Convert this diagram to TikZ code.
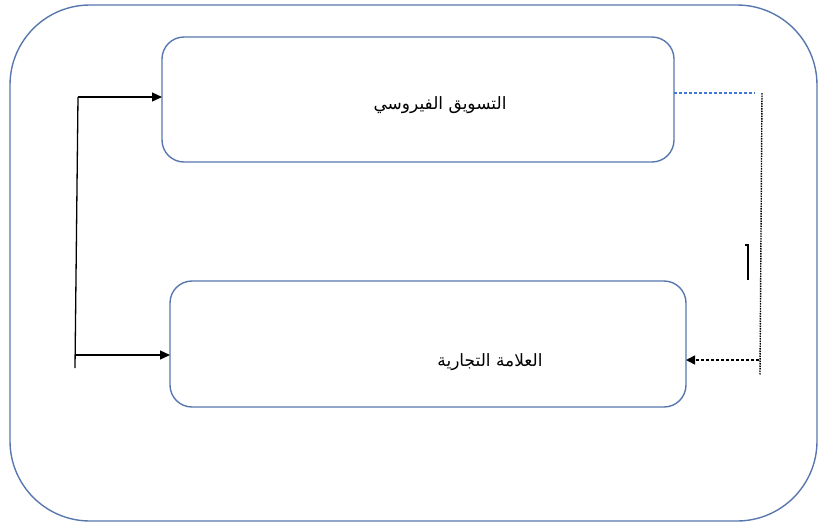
\documentclass[tikz,border=0pt]{standalone}
\usepackage{fontspec}
\newfontfamily\arabicfont[Script=Arabic]{DejaVu Sans}
\TeXXeTstate=1
\usetikzlibrary{arrows.meta}
\definecolor{boxblue}{HTML}{5877AE}
\definecolor{dashblue}{HTML}{3F78DA}
\tikzset{
  rbox/.style={draw=boxblue, line width=1.4pt, rounded corners=22pt},
  conn/.style={draw=black, line width=1.3pt, -{Triangle[length=10pt,width=9pt]}},
  lbl/.style={font=\arabicfont\fontsize{17}{20}\selectfont, inner sep=0pt}
}
\begin{document}
\begin{tikzpicture}[x=1pt,y=-1pt]
\useasboundingbox (0,0) rectangle (820,523);
\draw[rbox, rounded corners=80pt] (10,5) rectangle (817,521);
\draw[rbox] (162,37) rectangle (674,162);
\draw[rbox] (170,281) rectangle (686,407);
\node[lbl] (t1) at (440,105) {\beginR التسويق الفيروسي\endR};
\node[lbl] (t2) at (490,362) {\beginR العلامة التجارية\endR};
\coordinate (top) at (162,97);
\coordinate (bot) at (170,355);
\coordinate (lt) at (78,97);
\coordinate (lb) at (75,368);
\coordinate (lm) at (75,355);
\draw[line width=1.3pt] (lt) -- (lb);
\draw[conn] (lt) -- (top);
\draw[conn] (lm) -- (bot);
\coordinate (r1) at (674,93);
\coordinate (r2) at (755,93);
\draw[dashblue, line width=1.1pt, dash pattern=on 3pt off 2pt] (r1) -- (r2);
\coordinate (v1) at (762,93);
\coordinate (v2) at (760,375);
\draw[black, line width=1.4pt, dash pattern=on 1.5pt off 1pt] (v1) -- (v2);
\coordinate (a1) at (759,360);
\coordinate (a2) at (686,360);
\draw[black, line width=1.4pt, dash pattern=on 3.5pt off 1.5pt, -{Triangle[length=9pt,width=9pt]}] (a1) -- (a2);
\coordinate (s1) at (748,245);
\coordinate (s2) at (748,280);
\draw[line width=1.3pt] (745,245) -- (s1) -- (s2);
\end{tikzpicture}
\end{document}
